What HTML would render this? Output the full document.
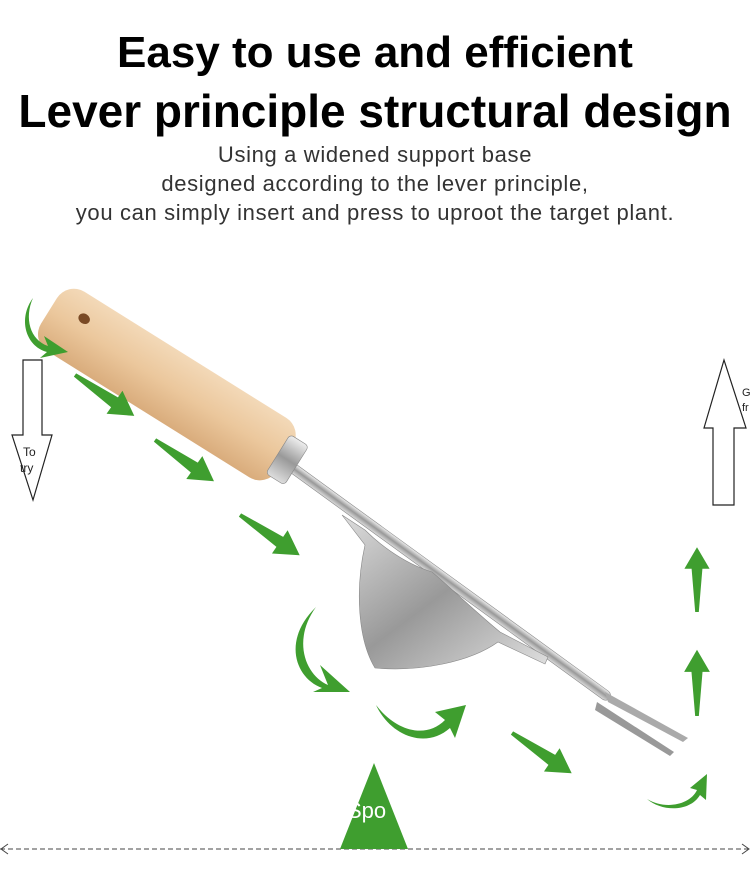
<!DOCTYPE html>
<html><head><meta charset="utf-8"><style>
html,body{margin:0;padding:0;background:#fff}
.w{position:relative;width:750px;height:878px;overflow:hidden;font-family:"Liberation Sans",sans-serif}
h1{position:absolute;left:0;width:750px;text-align:center;margin:0;font-weight:bold;color:#000;white-space:nowrap}
.s{position:absolute;left:0;width:750px;text-align:center;font-size:22px;letter-spacing:.65px;color:#333;line-height:29px;top:140px}
</style></head><body><div class="w">
<h1 style="top:28px;font-size:44px">Easy to use and efficient</h1>
<h1 style="top:84px;font-size:46px">Lever principle structural design</h1>
<div class="s">Using a widened support base<br>designed according to the lever principle,<br>you can simply insert and press to uproot the target plant.</div>
<svg width="750" height="878" style="position:absolute;left:0;top:0" font-family="Liberation Sans,sans-serif">
<defs>
<linearGradient id="wd" x1="0" y1="0" x2="0" y2="1"><stop offset="0" stop-color="#f3d9b8"/><stop offset=".5" stop-color="#ebc79c"/><stop offset="1" stop-color="#d9ac7c"/></linearGradient>
<linearGradient id="mt" x1="0" y1="0" x2="0" y2="1"><stop offset="0" stop-color="#eee"/><stop offset=".5" stop-color="#999"/><stop offset="1" stop-color="#ddd"/></linearGradient>
<linearGradient id="bl" x1="0" y1="0" x2="1" y2="1"><stop offset="0" stop-color="#ddd"/><stop offset=".5" stop-color="#999"/><stop offset="1" stop-color="#e0e0e0"/></linearGradient>
<g id="ar"><path d="M0,-2 L48,-6 L48,-14 L72,0 L48,14 L48,6 L0,2Z" fill="#3f9e2f"/></g>
</defs>
<line x1="0" y1="849" x2="748" y2="849" stroke="#444" stroke-dasharray="5,3"/>
<path d="M8,844 L1,849 L8,854 M742,844 L749,849 L742,854" stroke="#444" fill="none"/>
<path d="M23,360 L42,360 L42,435 L52,435 L33,500 L12,435 L23,435Z" fill="#fff" stroke="#222" stroke-width="1.2"/>
<text x="23" y="456" font-size="12" fill="#222">To</text>
<text x="20" y="472" font-size="12" fill="#222">try</text>
<path d="M713,505 L734,505 L734,428 L746,428 L724,360 L704,428 L713,428Z" fill="#fff" stroke="#222" stroke-width="1.2"/>
<text x="742" y="396" font-size="11" fill="#222">G</text><text x="742" y="411" font-size="11" fill="#222">fr</text>
<g transform="translate(290,466) rotate(36)">
<rect x="0" y="-5" width="395" height="10" rx="5" fill="url(#mt)" stroke="#888" stroke-width=".6"/>
</g>
<path d="M342,515 L365,545 C355,590 358,640 375,668 C420,672 470,662 498,642 L545,664 L548,657 L500,632 C470,607 450,587 432,572 C400,562 375,540 365,530Z" fill="url(#bl)" stroke="#888" stroke-width=".6"/>
<path d="M605,692 L688,738 L683,742 L608,702Z" fill="#aaa"/>
<path d="M597,702 L674,752 L670,756 L595,710Z" fill="#999"/>
<g transform="translate(166,384) rotate(32)">
<rect x="-138" y="-35" width="278" height="70" rx="20" fill="url(#wd)"/>
<ellipse cx="-104" cy="-12" rx="6" ry="5" fill="#7a4a25"/>
<rect x="132" y="-23" width="22" height="46" rx="4" fill="url(#mt)" stroke="#888" stroke-width=".6"/>
</g>
<use href="#ar" transform="translate(75,375) rotate(34.6)"/>
<use href="#ar" transform="translate(155,440) rotate(35)"/>
<use href="#ar" transform="translate(240,515) rotate(34)"/>
<use href="#ar" transform="translate(512,733) rotate(34)"/>
<use href="#ar" transform="translate(697,612) rotate(-90) scale(.9)"/>
<use href="#ar" transform="translate(697,716) rotate(-90) scale(.92)"/>
<g fill="#3f9e2f">
<path d="M33,298 C24,318 30,340 48,346 L44,336 L68,352 L40,358 L47,352 C25,346 18,318 33,298Z"/>
<path d="M316,607 C292,640 305,675 328,685 L320,665 L350,692 L313,692 L322,688 C295,678 282,640 316,607Z"/>
<path d="M376,705 C395,730 425,740 445,720 L435,712 L466,705 L455,738 L450,728 C425,750 390,735 376,705Z"/>
<path d="M647,799 C665,810 690,805 697,790 L690,788 L707,774 L706,800 L700,795 C690,812 662,812 647,799Z"/>
<path d="M374,763 L408,849 L340,849Z"/>
</g>
<text x="347" y="818" font-size="22" fill="#fff">Spo</text>
</svg>
</div></body></html>
